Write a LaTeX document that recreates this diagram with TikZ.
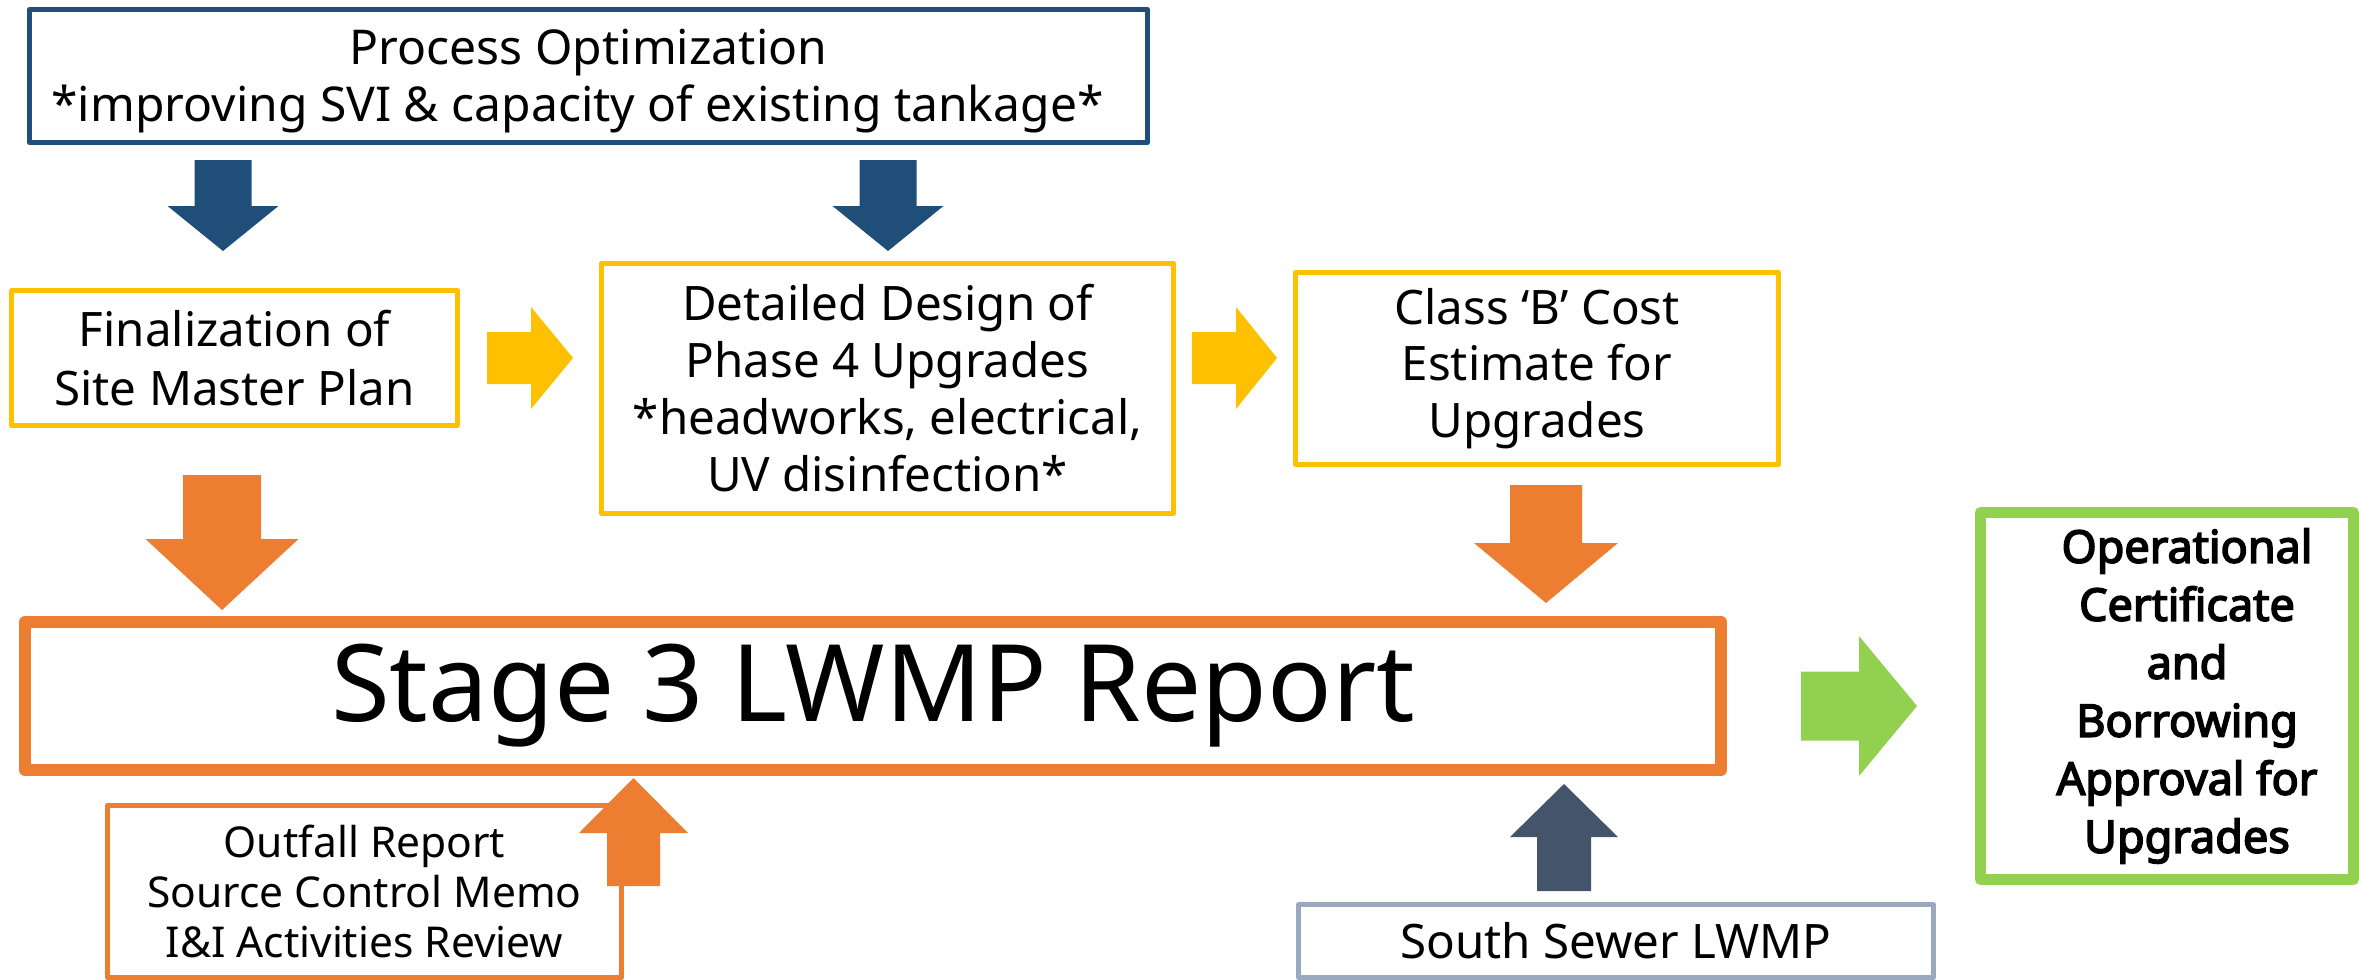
\documentclass[tikz,border=0pt]{standalone}
\usepackage{fontspec}
\setmainfont{Noto Sans}
\newfontfamily\heavyfont{Noto Sans}[FakeBold=3.5]
\definecolor{navy}{HTML}{1F4E79}
\definecolor{gold}{HTML}{FFC000}
\definecolor{tang}{HTML}{ED7D31}
\definecolor{lime}{HTML}{92D050}
\definecolor{slate}{HTML}{44546A}
\definecolor{mist}{HTML}{9AA9C0}

% block arrow: colour, tail x, tail y, direction, length, shaft width, head width, head length
\newcommand\blockarrow[8]{%
  \fill[#1, shift={(#2,#3)}, rotate=#4]
    (0,-#6/2) -- (#5-#8,-#6/2) -- (#5-#8,-#7/2) -- (#5,0)
    -- (#5-#8,#7/2) -- (#5-#8,#6/2) -- (0,#6/2) -- cycle;}

\tikzset{
  box/.style={draw, line width=5pt, fill=white, inner sep=0pt, align=center, line join=round},
  bodytext/.style={font=\fontsize{47.5}{57}\selectfont},
}

\begin{document}
\begin{tikzpicture}[x=1pt, y=-1pt]
\useasboundingbox (0,0) rectangle (2359,980);

% process optimisation banner and its two feeds
\node[box, draw=navy, font=\fontsize{48}{57}\selectfont, minimum width=1118pt, minimum height=133pt] (proc) at (588.5,76)
  {\rule{0pt}{46pt}Process Optimization\\*improving SVI \& capacity of existing tankage*\hspace*{22pt}};
\blockarrow{navy}{223}{160}{-90}{91}{57}{111}{45}
\blockarrow{navy}{888}{160}{-90}{91}{57}{111}{45}

% first row of work items
\node[box, draw=gold, font=\fontsize{47.5}{59}\selectfont, minimum width=446pt, minimum height=135pt] (fin) at (234.5,358)
  {Finalization of\\Site Master Plan};
\node[box, draw=gold, bodytext, minimum width=572pt, minimum height=250pt] (design) at (887.5,388.5)
  {Detailed Design of\\Phase 4 Upgrades\\*headworks, electrical,\\UV disinfection*};
\node[box, draw=gold, font=\fontsize{47.5}{56.5}\selectfont, minimum width=483pt, minimum height=192pt] (costb) at (1537,368.5)
  {Class ‘B’ Cost\\Estimate for\\Upgrades};
\blockarrow{gold}{487}{358}{0}{86}{52}{102}{42}
\blockarrow{gold}{1192}{358}{0}{85}{52}{102}{41}

% feeds into the report
\blockarrow{tang}{222}{475}{-90}{135}{78}{153}{71}
\blockarrow{tang}{1546}{485}{-90}{118}{72}{144}{60}

% main report
\node[box, draw=tang, line width=12pt, font=\fontsize{107}{128}\selectfont, minimum width=1696pt, minimum height=148pt] (stage) at (873,696)
  {Stage 3 LWMP Report};

% supporting documents below
\node[box, draw=tang, font=\fontsize{42.5}{50}\selectfont, minimum width=514pt, minimum height=172pt] (outfall) at (364.5,891.5)
  {Outfall Report\\Source Control Memo\\I\&I Activities Review};
\blockarrow{tang}{633.5}{886}{90}{108}{53}{109}{55}

\node[box, draw=mist, bodytext, minimum width=635pt, minimum height=73pt] (south) at (1616,941)
  {South Sewer LWMP};
\blockarrow{slate}{1564}{891}{90}{107}{54}{108}{53}

% outcome
\blockarrow{lime}{1801}{706}{0}{116}{69}{140}{58}
\node[box, draw=lime, line width=11pt, minimum width=373pt, minimum height=367pt] (opcert) at (2167,696) {};
\node[font=\heavyfont\fontsize{45}{58}\selectfont, align=center, inner sep=0pt] (opcerttext) at ([xshift=20pt]opcert.center)
  {Operational\\Certificate\\and\\Borrowing\\Approval for\\Upgrades};
\end{tikzpicture}
\end{document}
